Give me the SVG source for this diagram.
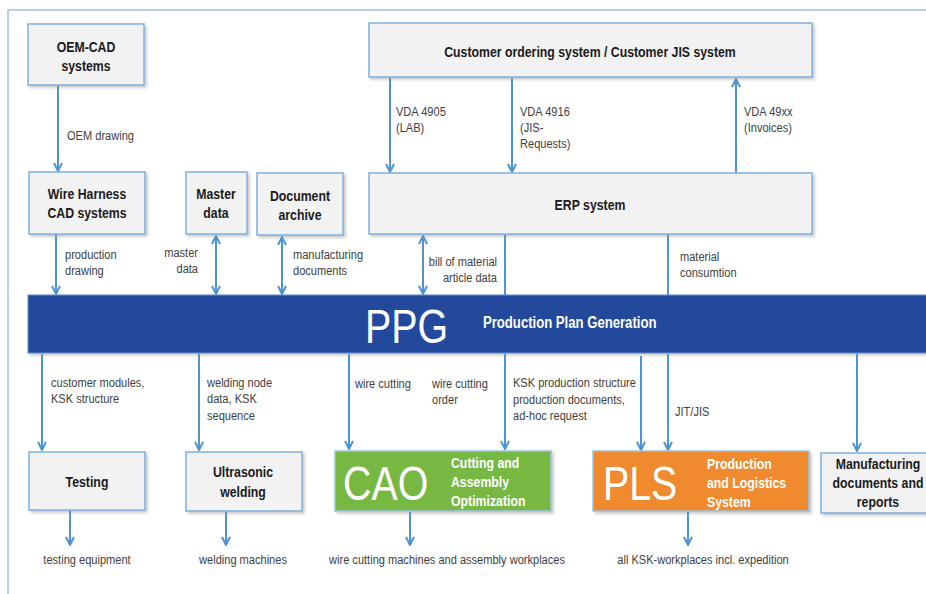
<svg xmlns="http://www.w3.org/2000/svg" width="926" height="594" viewBox="0 0 926 594">
<defs>
<filter id="sh" x="-10%" y="-10%" width="130%" height="140%">
<feDropShadow dx="2" dy="2" stdDeviation="1.5" flood-color="#888" flood-opacity="0.45"/>
</filter>
<marker id="ah" viewBox="0 0 10 10" refX="9" refY="5" markerWidth="10" markerHeight="10" markerUnits="userSpaceOnUse" orient="auto-start-reverse">
<path d="M1,1 L9,5 L1,9" fill="none" stroke="#4f93d2" stroke-width="2"/>
</marker>
<style>
text{font-family:"Liberation Sans Narrow","Arial Narrow","Liberation Sans",Arial,sans-serif}
.box{fill:#f2f2f2;stroke:#7eb1e0;stroke-width:1.5;filter:url(#sh)}
.t{font-weight:bold;font-size:15px;fill:#1a1a1a;text-anchor:middle}
.l{font-size:13.5px;fill:#404040}
.w{font-weight:bold;font-size:15px;fill:#ffffff}
.big{font-size:48px;fill:#ffffff}
.c{fill:none;stroke:#4f93d2;stroke-width:2}
.a{marker-end:url(#ah)}
.b{marker-start:url(#ah);marker-end:url(#ah)}
.m{text-anchor:middle}
.e{text-anchor:end}
</style>
</defs>
<rect width="926" height="594" fill="#ffffff"/>
<path d="M8,594 L8,10 L926,10" fill="none" stroke="#9dc3e6" stroke-width="1.5"/>

<g id="connectors">
<line class="c a" x1="58" y1="86" x2="58" y2="171"/>
<line class="c a" x1="56" y1="235" x2="56" y2="294"/>
<line class="c b" x1="216" y1="236" x2="216" y2="294"/>
<line class="c b" x1="282" y1="237" x2="282" y2="294"/>
<line class="c a" x1="390" y1="78" x2="390" y2="172"/>
<line class="c a" x1="512" y1="78" x2="512" y2="172"/>
<line class="c a" x1="736" y1="173" x2="736" y2="79"/>
<line class="c b" x1="423" y1="236" x2="423" y2="294"/>
<line class="c" x1="505" y1="235" x2="505" y2="295"/>
<line class="c" x1="668" y1="235" x2="668" y2="295"/>
<line class="c a" x1="42" y1="354" x2="42" y2="450"/>
<line class="c a" x1="199" y1="354" x2="199" y2="450"/>
<line class="c a" x1="349" y1="354" x2="349" y2="449"/>
<line class="c a" x1="505" y1="354" x2="505" y2="449"/>
<line class="c a" x1="641" y1="356" x2="641" y2="450"/>
<line class="c a" x1="668" y1="354" x2="668" y2="450"/>
<line class="c a" x1="857" y1="354" x2="857" y2="451"/>
<line class="c a" x1="70" y1="511" x2="70" y2="545"/>
<line class="c a" x1="226" y1="512" x2="226" y2="545"/>
<line class="c a" x1="410" y1="512" x2="410" y2="545"/>
<line class="c a" x1="688" y1="512" x2="688" y2="545"/>
</g>

<g id="labels">
<text class="l" transform="translate(67,140) scale(.82,1)">OEM drawing</text>
<text class="l" transform="translate(65,259) scale(.82,1)">production</text>
<text class="l" transform="translate(65,275) scale(.82,1)">drawing</text>
<text class="l e" transform="translate(198,257) scale(.82,1)">master</text>
<text class="l e" transform="translate(198,273) scale(.82,1)">data</text>
<text class="l" transform="translate(293,259) scale(.82,1)">manufacturing</text>
<text class="l" transform="translate(293,275) scale(.82,1)">documents</text>
<text class="l" transform="translate(396,116) scale(.82,1)">VDA 4905</text>
<text class="l" transform="translate(396,132) scale(.82,1)">(LAB)</text>
<text class="l" transform="translate(520,116) scale(.82,1)">VDA 4916</text>
<text class="l" transform="translate(520,132) scale(.82,1)">(JIS-</text>
<text class="l" transform="translate(520,148) scale(.82,1)">Requests)</text>
<text class="l" transform="translate(744,116) scale(.82,1)">VDA 49xx</text>
<text class="l" transform="translate(744,132) scale(.82,1)">(Invoices)</text>
<text class="l e" transform="translate(497,266) scale(.82,1)">bill of material</text>
<text class="l e" transform="translate(497,282) scale(.82,1)">article data</text>
<text class="l" transform="translate(680,261) scale(.82,1)">material</text>
<text class="l" transform="translate(680,277) scale(.82,1)">consumtion</text>
<text class="l" transform="translate(51,387) scale(.82,1)">customer modules,</text>
<text class="l" transform="translate(51,403) scale(.82,1)">KSK structure</text>
<text class="l" transform="translate(207,387) scale(.82,1)">welding node</text>
<text class="l" transform="translate(207,403) scale(.82,1)">data, KSK</text>
<text class="l" transform="translate(207,420) scale(.82,1)">sequence</text>
<text class="l" transform="translate(355,388) scale(.82,1)">wire cutting</text>
<text class="l" transform="translate(432,388) scale(.82,1)">wire cutting</text>
<text class="l" transform="translate(432,404) scale(.82,1)">order</text>
<text class="l" transform="translate(513,387) scale(.82,1)">KSK production structure</text>
<text class="l" transform="translate(513,404) scale(.82,1)">production documents,</text>
<text class="l" transform="translate(513,420) scale(.82,1)">ad-hoc request</text>
<text class="l" transform="translate(675,416) scale(.82,1)">JIT/JIS</text>
<text class="l m" transform="translate(87,564) scale(.82,1)">testing equipment</text>
<text class="l m" transform="translate(243,564) scale(.82,1)">welding machines</text>
<text class="l m" transform="translate(447,564) scale(.82,1)">wire cutting machines and assembly workplaces</text>
<text class="l m" transform="translate(703,564) scale(.82,1)">all KSK-workplaces incl. expedition</text>
</g>

<g id="oem-cad">
<rect class="box" x="28" y="24" width="116" height="61"/>
<text class="t" transform="translate(86,52) scale(.82,1)">OEM-CAD</text>
<text class="t" transform="translate(86,71) scale(.82,1)">systems</text>
</g>
<g id="wire-harness">
<rect class="box" x="29" y="172" width="116" height="62"/>
<text class="t" transform="translate(87,199) scale(.82,1)">Wire Harness</text>
<text class="t" transform="translate(87,218) scale(.82,1)">CAD systems</text>
</g>
<g id="master-data">
<rect class="box" x="186" y="172" width="61" height="62"/>
<text class="t" transform="translate(216,199) scale(.82,1)">Master</text>
<text class="t" transform="translate(216,218) scale(.82,1)">data</text>
</g>
<g id="document-archive">
<rect class="box" x="257" y="173" width="86" height="62"/>
<text class="t" transform="translate(300,201) scale(.82,1)">Document</text>
<text class="t" transform="translate(300,220) scale(.82,1)">archive</text>
</g>
<g id="customer-ordering">
<rect class="box" x="369" y="23" width="443" height="54"/>
<text class="t" transform="translate(590,57) scale(.82,1)">Customer ordering system / Customer JIS system</text>
</g>
<g id="erp">
<rect class="box" x="369" y="173" width="443" height="61"/>
<text class="t" transform="translate(590,210) scale(.82,1)">ERP system</text>
</g>
<g id="ppg">
<rect x="28" y="295" width="900" height="58" fill="#244a9b" stroke="#5b8fd0" stroke-width="1" filter="url(#sh)"/>
<text class="big" transform="translate(365,343) scale(.82,1)">PPG</text>
<text class="w" transform="translate(483,328) scale(.82,1)" style="font-size:16px">Production Plan Generation</text>
</g>
<g id="testing">
<rect class="box" x="29" y="452" width="116" height="58"/>
<text class="t" transform="translate(87,487) scale(.82,1)">Testing</text>
</g>
<g id="ultrasonic">
<rect class="box" x="186" y="452" width="116" height="59"/>
<text class="t" transform="translate(243,477) scale(.82,1)">Ultrasonic</text>
<text class="t" transform="translate(243,497) scale(.82,1)">welding</text>
</g>
<g id="cao">
<rect x="335" y="451" width="216" height="60" fill="#77b843" stroke="#9dc3e6" stroke-width="1.5" filter="url(#sh)"/>
<text class="big" transform="translate(343,500) scale(.82,1)">CAO</text>
<text class="w" transform="translate(451,468) scale(.82,1)">Cutting and</text>
<text class="w" transform="translate(451,487) scale(.82,1)">Assembly</text>
<text class="w" transform="translate(451,506) scale(.82,1)">Optimization</text>
</g>
<g id="pls">
<rect x="593" y="451" width="216" height="60" fill="#f08a2e" stroke="#9dc3e6" stroke-width="1.5" filter="url(#sh)"/>
<text class="big" transform="translate(603,500) scale(.82,1)">PLS</text>
<text class="w" transform="translate(707,469) scale(.82,1)">Production</text>
<text class="w" transform="translate(707,488) scale(.82,1)">and Logistics</text>
<text class="w" transform="translate(707,507) scale(.82,1)">System</text>
</g>
<g id="manufacturing">
<rect class="box" x="821" y="453" width="120" height="60"/>
<text class="t" transform="translate(878,469) scale(.82,1)">Manufacturing</text>
<text class="t" transform="translate(878,488) scale(.82,1)">documents and</text>
<text class="t" transform="translate(878,507) scale(.82,1)">reports</text>
</g>
</svg>
